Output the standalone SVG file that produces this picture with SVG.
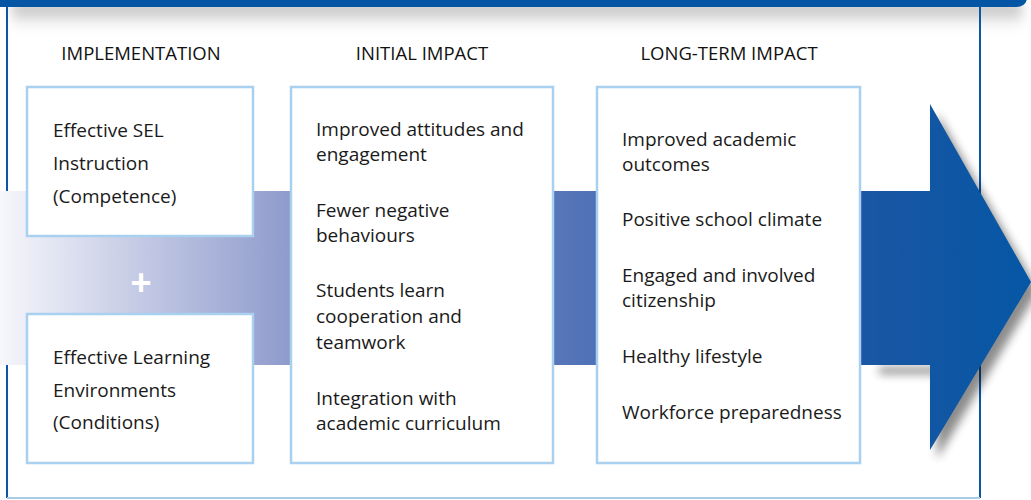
<svg xmlns="http://www.w3.org/2000/svg" width="1031" height="500" viewBox="0 0 1031 500">
<defs>
<style>
.box{fill:#ffffff;stroke:#a9d0ef;stroke-width:2.5}
.hd{font-family:"Open Sans","Liberation Sans",sans-serif;font-size:18.5px;fill:#111;text-anchor:middle}
.tx{font-family:"Open Sans","Liberation Sans",sans-serif;font-size:19px;fill:#1a1a1a}
.plus{font-family:"Liberation Sans",sans-serif;font-size:36px;font-weight:bold;fill:#ffffff;text-anchor:middle}
</style>
<linearGradient id="band" x1="0" y1="0" x2="1031" y2="0" gradientUnits="userSpaceOnUse">
<stop offset="0" stop-color="#f6f6fb"/>
<stop offset="0.28" stop-color="#8f9bcc"/>
<stop offset="0.56" stop-color="#5373b8"/>
<stop offset="0.84" stop-color="#1a56a3"/>
<stop offset="1" stop-color="#0557a5"/>
</linearGradient>
<linearGradient id="bshadow" x1="0" y1="0" x2="0" y2="1">
<stop offset="0" stop-color="#9a9a9a" stop-opacity="0.9"/>
<stop offset="1" stop-color="#ffffff" stop-opacity="0"/>
</linearGradient>
<filter id="blur" x="-20%" y="-20%" width="140%" height="140%">
<feGaussianBlur stdDeviation="5"/>
</filter>
<filter id="blur2" x="-10%" y="-100%" width="120%" height="400%">
<feGaussianBlur stdDeviation="6"/>
</filter>
</defs>
<rect x="0" y="0" width="1031" height="500" fill="#ffffff"/>
<rect x="12" y="4" width="1010" height="30" fill="url(#bshadow)" filter="url(#blur2)"/>
<g id="frame">
<line x1="7" y1="6" x2="7" y2="498" stroke="#0d56a3" stroke-width="2"/>
<line x1="980" y1="6" x2="980" y2="498" stroke="#0d56a3" stroke-width="2"/>
<line x1="7" y1="498" x2="980" y2="498" stroke="#a9cbe8" stroke-width="2"/>
</g>
<path d="M0,-20 H1027 V-3 Q1027,7 1015,7 H0 Z" fill="#0456a4"/>
<g id="connectors">
<polygon points="930,104 1031,282 930,450 930,365 872,365 872,358 930,358" fill="#000" opacity="0.45" filter="url(#blur)" transform="translate(7,9)"/>
<polygon points="0,191 930,191 930,104 1031,282 930,450 930,365 0,365" fill="url(#band)"/>
</g>
<text class="hd" x="141" y="60">IMPLEMENTATION</text>
<text class="hd" x="422" y="60">INITIAL IMPACT</text>
<text class="hd" x="729" y="60">LONG-TERM IMPACT</text>
<g id="box-sel">
<rect class="box" x="27" y="87" width="226" height="149"/>
<text class="tx" x="53" y="137">Effective SEL</text>
<text class="tx" x="53" y="170">Instruction</text>
<text class="tx" x="53" y="203">(Competence)</text>
</g>
<text class="plus" x="141" y="295">+</text>
<g id="box-env">
<rect class="box" x="27" y="314" width="226" height="149"/>
<text class="tx" x="53" y="364">Effective Learning</text>
<text class="tx" x="53" y="397">Environments</text>
<text class="tx" x="53" y="429">(Conditions)</text>
</g>
<g id="box-initial">
<rect class="box" x="291" y="87" width="262" height="376"/>
<text class="tx" x="316" y="136">Improved attitudes and</text>
<text class="tx" x="316" y="161">engagement</text>
<text class="tx" x="316" y="217">Fewer negative</text>
<text class="tx" x="316" y="242">behaviours</text>
<text class="tx" x="316" y="297">Students learn</text>
<text class="tx" x="316" y="323">cooperation and</text>
<text class="tx" x="316" y="349">teamwork</text>
<text class="tx" x="316" y="405">Integration with</text>
<text class="tx" x="316" y="430">academic curriculum</text>
</g>
<g id="box-long">
<rect class="box" x="597" y="87" width="263" height="376"/>
<text class="tx" x="622" y="146">Improved academic</text>
<text class="tx" x="622" y="171">outcomes</text>
<text class="tx" x="622" y="226">Positive school climate</text>
<text class="tx" x="622" y="282">Engaged and involved</text>
<text class="tx" x="622" y="307">citizenship</text>
<text class="tx" x="622" y="363">Healthy lifestyle</text>
<text class="tx" x="622" y="419">Workforce preparedness</text>
</g>
</svg>
